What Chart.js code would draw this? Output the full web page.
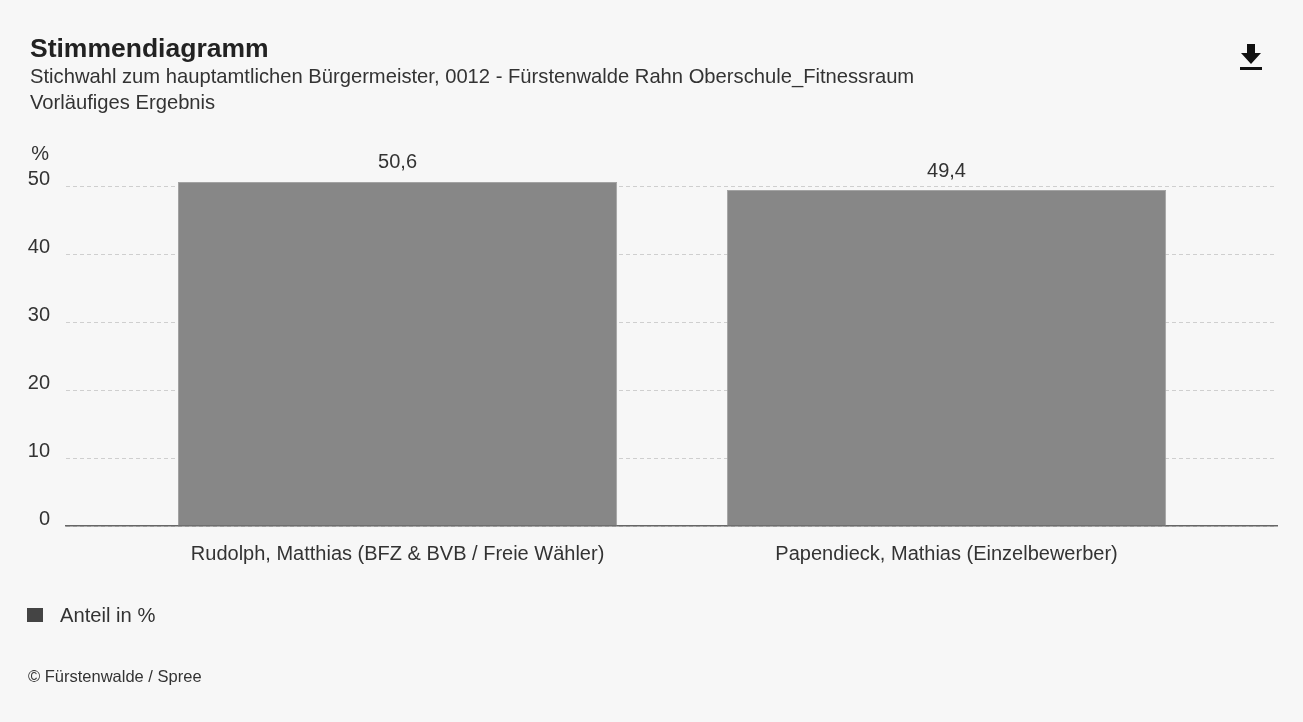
<!DOCTYPE html>
<html><head><meta charset="utf-8">
<script src="https://cdn.jsdelivr.net/npm/chart.js@4"></script>
<style>
html,body{margin:0;padding:0;background:#f7f7f7;width:1303px;height:722px;overflow:hidden;font-family:"Liberation Sans",Arial,sans-serif;color:#333;}
#c{position:absolute;left:0;top:0;}
.t{position:absolute;white-space:nowrap;line-height:1;}
#title{left:30px;top:35px;font-size:26.5px;font-weight:bold;color:#222;}
#sub1{left:30px;top:66px;font-size:20.2px;color:#333;}
#sub2{left:30px;top:92px;font-size:20.2px;color:#333;}
#leg{left:27px;top:605px;font-size:20.2px;color:#333;}
#leg span.sq{display:inline-block;width:16px;height:14px;background:#444;vertical-align:middle;margin-right:17px;position:relative;top:-2px;}
#foot{left:28px;top:668px;font-size:16.5px;color:#333;}
#dl{position:absolute;left:1239px;top:42px;}
</style></head>
<body>
<canvas id="c" width="1303" height="722"></canvas>
<div class="t" id="title">Stimmendiagramm</div>
<div class="t" id="sub1">Stichwahl zum hauptamtlichen Bürgermeister, 0012 - Fürstenwalde Rahn Oberschule_Fitnessraum</div>
<div class="t" id="sub2">Vorläufiges Ergebnis</div>
<div class="t" id="leg"><span class="sq"></span>Anteil in %</div>
<div class="t" id="foot">© Fürstenwalde / Spree</div>
<svg id="dl" width="24" height="30" viewBox="0 0 24 30"><path d="M8 2h8v9h6L12 22 2 11h6z" fill="#111"/><rect x="1" y="25" width="22" height="3" fill="#111"/></svg>
<script>
const categories = ["Rudolph, Matthias (BFZ & BVB / Freie Wähler)", "Papendieck, Mathias (Einzelbewerber)"];
const shares = [50.6, 49.4];
const yTicks = [0, 10, 20, 30, 40, 50];
const seriesLabel = "Anteil in %";

const fmt = v => String(v).replace('.', ',');
const FONT = '"Liberation Sans", Arial, sans-serif';

const labelsPlugin = {
  id: 'vals',
  afterDatasetsDraw(chart) {
    const ctx = chart.ctx;
    const meta = chart.getDatasetMeta(0);
    ctx.save();
    ctx.font = '20px ' + FONT;
    ctx.fillStyle = '#333';
    ctx.textAlign = 'center';
    ctx.textBaseline = 'middle';
    meta.data.forEach((bar, i) => {
      ctx.fillText(fmt(shares[i]), bar.x, bar.y - 19);
    });
    const ys = chart.scales.y;
    ctx.textAlign = 'right';
    ctx.fillText('%', 49, ys.getPixelForValue(50) - 32);
    ctx.restore();
  }
};

new Chart(document.getElementById('c'), {
  type: 'bar',
  data: {
    datasets: [{
      label: seriesLabel,
      data: shares.map((v, i) => ({x: i, y: v})),
      backgroundColor: '#878787',
      borderColor: '#a3a3a3',
      borderWidth: {top: 1, left: 1, right: 1, bottom: 0},
      categoryPercentage: 1,
      barPercentage: 0.8
    }]
  },
  options: {
    responsive: false,
    animation: false,
    layout: {padding: {left: 0, right: 26, top: 152, bottom: 136}},
    plugins: {legend: {display: false}, tooltip: {enabled: false}},
    scales: {
      x: {
        type: 'linear',
        offset: false,
        min: -0.604,
        max: 1.602,
        afterFit(s) { s.height = 60; },
        afterBuildTicks(s) { s.ticks = categories.map((_, i) => ({value: i})); },
        ticks: {
          callback: (v) => categories[v],
          font: {family: FONT, size: 20},
          color: '#333',
          padding: 16,
          maxRotation: 0,
          autoSkip: false
        },
        grid: {display: false, drawTicks: false, offset: false},
        border: {display: true, color: '#666', width: 1.5}
      },
      y: {
        min: 0,
        max: 55,
        afterFit(s) { s.width = 66; },
        afterBuildTicks(s) { s.ticks = yTicks.map(v => ({value: v})); },
        ticks: {
          font: {family: FONT, size: 20},
          color: '#333',
          padding: 16,
          labelOffset: -7
        },
        grid: {color: '#cfcfcf', drawTicks: false, lineWidth: 1},
        border: {display: false, dash: [4, 3]}
      }
    }
  },
  plugins: [labelsPlugin]
});
</script>
</body></html>
